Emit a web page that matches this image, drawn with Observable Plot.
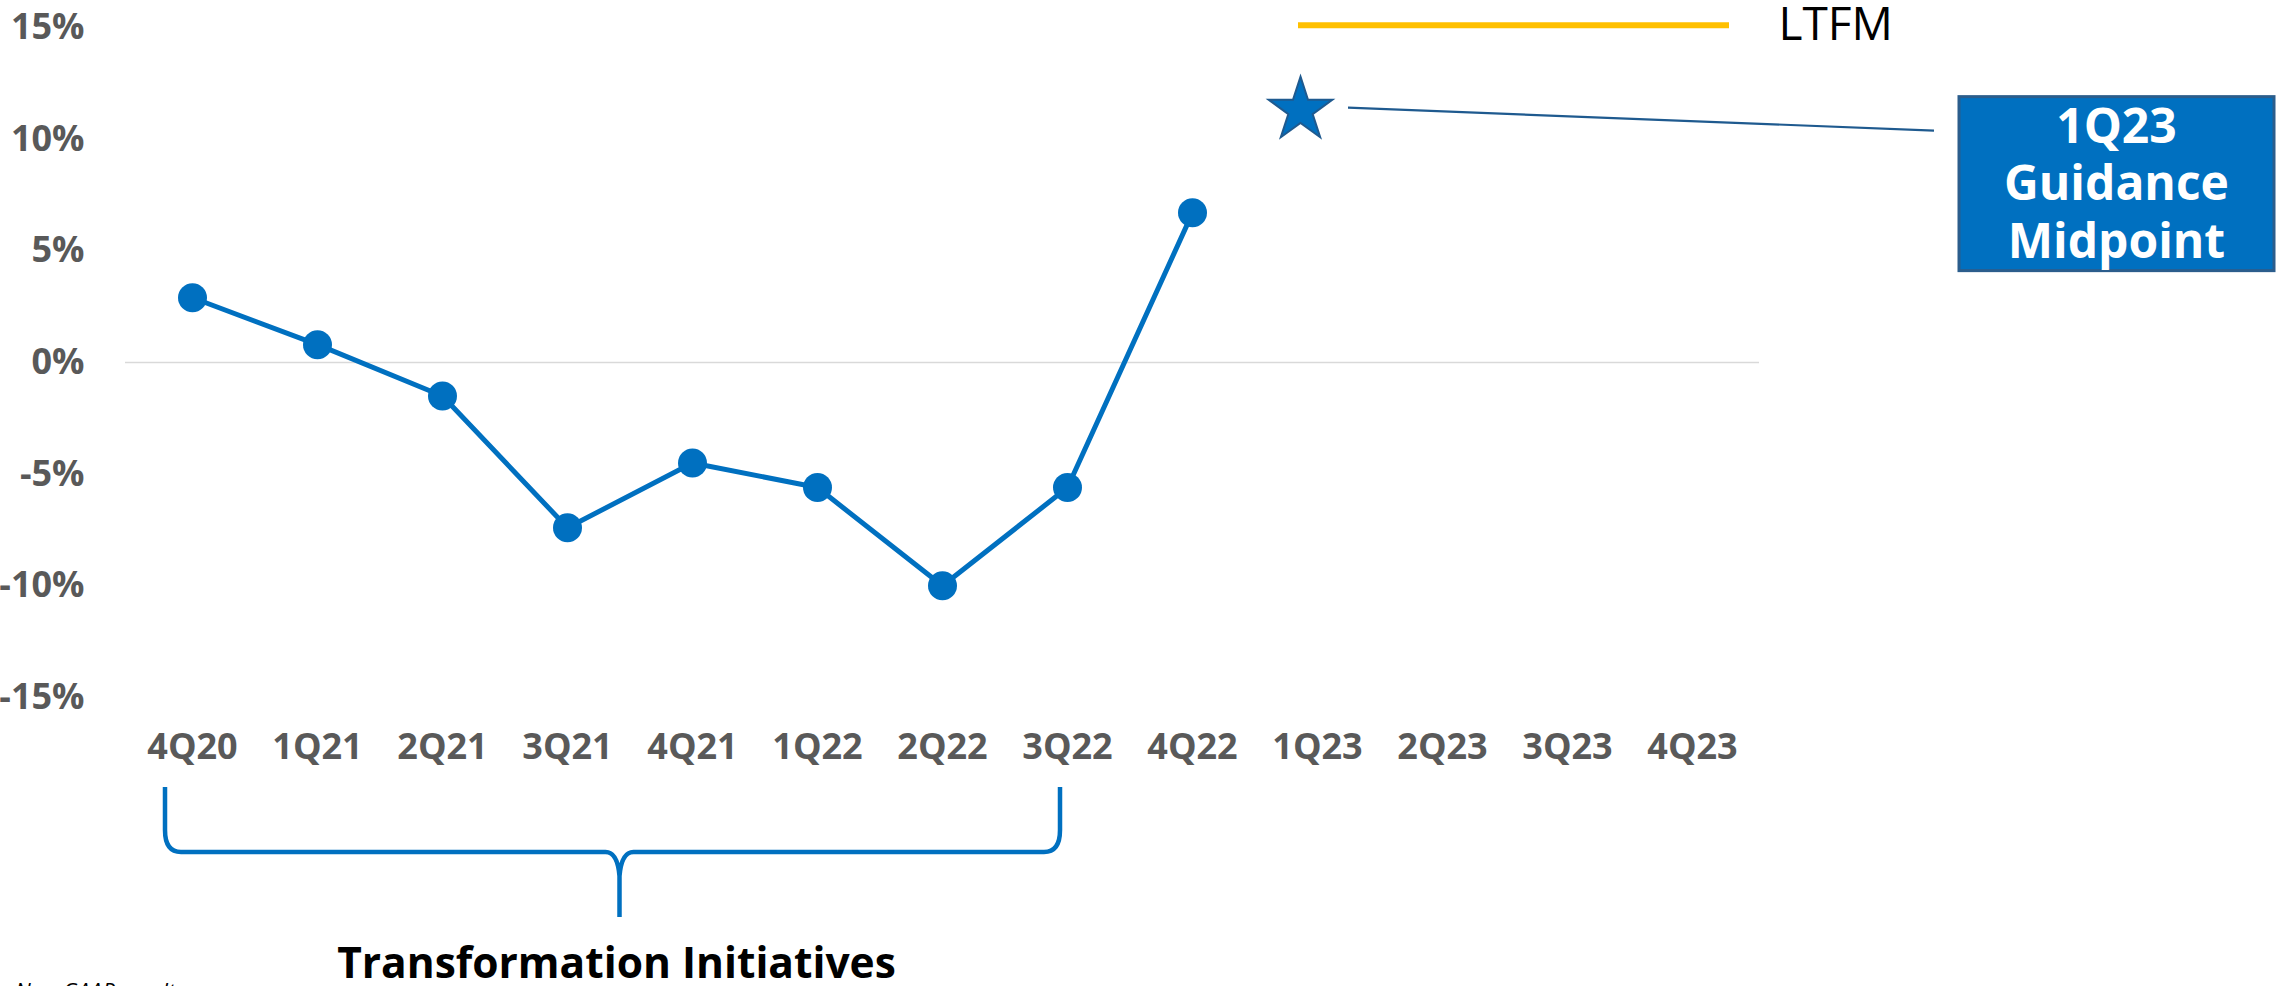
<!DOCTYPE html>
<html><head><meta charset="utf-8">
<script src="https://cdn.jsdelivr.net/npm/d3@7"></script>
<script src="https://cdn.jsdelivr.net/npm/@observablehq/plot@0.6"></script>
<style>html,body{margin:0;padding:0;background:#fff;overflow:hidden;}</style>
</head><body><div id="chart"></div>
<script>
// ---- data ----
const quarters = ["4Q20","1Q21","2Q21","3Q21","4Q21","1Q22","2Q22","3Q22","4Q22","1Q23","2Q23","3Q23","4Q23"];
const actualQuarters = ["4Q20","1Q21","2Q21","3Q21","4Q21","1Q22","2Q22","3Q22","4Q22"];
const actualValues = [2.9, 0.8, -1.5, -7.4, -4.5, -5.6, -10.0, -5.6, 6.7];
const guidanceQuarters = ["1Q23"];
const guidanceValues = [11.3];
const ltfmValues = [15.1];
const ltfmStart = ["1Q23"];
const ltfmEnd = ["4Q23"];
const yTicks = [-15, -10, -5, 0, 5, 10, 15];
const bracketStart = "4Q20";
const bracketEnd = "3Q22";
const bracketLabel = "Transformation Initiatives";
const guidanceLabel = ["1Q23", "Guidance", "Midpoint"];
const ltfmLabel = ["LTFM"];
const footnote = "Non-GAAP results";

// ---- tables ----
const actual = actualQuarters.map((q, i) => ({q, v: actualValues[i]}));
const guidance = guidanceQuarters.map((q, i) => ({q, v: guidanceValues[i]}));
const ltfm = ltfmValues.map((v, i) => ({v, x1: ltfmStart[i], x2: ltfmEnd[i], label: ltfmLabel[i]}));

const BLUE = "#0070C0";

const plot = Plot.plot({
  width: 2277, height: 986,
  marginLeft: 125, marginRight: 518, marginTop: 27, marginBottom: 289,
  style: {fontFamily: "'Open Sans', sans-serif", fontSize: "36px", fontWeight: 700, color: "#595959", background: "#fff", overflow: "visible"},
  x: {type: "point", domain: quarters, padding: 0.5, label: null},
  y: {domain: [-15, 15], label: null},
  marks: [
    Plot.ruleY([0], {stroke: "#D9D9D9", strokeWidth: 1.5}),
    Plot.axisY(yTicks, {tickSize: 0, tickPadding: 41, tickFormat: d => d + "%", fontSize: 36, label: null}),
    Plot.axisX({tickSize: 0, tickPadding: 36, fontSize: 36, label: null}),
    Plot.ruleY(ltfm, {y: "v", x1: "x1", x2: "x2", stroke: "#FFC000", strokeWidth: 6, insetLeft: -19, insetRight: -37}),
    Plot.text(ltfm, {x: "x2", y: "v", text: "label", dx: 86, dy: 0, textAnchor: "start", fontSize: 46, fontWeight: 400, fill: "#000"}),
    Plot.line(actual, {x: "q", y: "v", stroke: BLUE, strokeWidth: 5}),
    Plot.dot(actual, {x: "q", y: "v", r: 14.5, fill: BLUE}),
    Plot.dot(guidance, {x: "q", y: "v", symbol: "star", r: 20, fill: BLUE, stroke: "#1F5A8F", strokeWidth: 2, dx: -17})
  ]
});
document.getElementById("chart").appendChild(plot);

// ---- annotations anchored to the scales ----
const sx = plot.scale("x").apply, sy = plot.scale("y").apply;
const svg = d3.select(plot);
const ff = "'Open Sans', sans-serif";

// bracket under the transformation quarters
const bL = sx(bracketStart) - 27, bR = sx(bracketEnd) - 7;
const bM = (sx(bracketStart) + sx(bracketEnd)) / 2 - 10;
const bTop = sy(-15) + 90, hy = bTop + 65, tip = bTop + 130;
const bp = `M${bL},${bTop} L${bL},${hy-22} Q${bL},${hy} ${bL+16},${hy} L${bM-14},${hy} Q${bM-2},${hy} ${bM},${hy+24} L${bM},${tip}` +
           ` M${bM},${hy+24} Q${bM+2},${hy} ${bM+14},${hy} L${bR-16},${hy} Q${bR},${hy} ${bR},${hy-22} L${bR},${bTop}`;
svg.append("path").attr("d", bp).attr("fill", "none").attr("stroke", BLUE).attr("stroke-width", 4.5);
svg.append("text").attr("x", bM - 3).attr("y", tip + 61).attr("text-anchor", "middle")
  .attr("font-family", ff).attr("font-weight", 700).attr("font-size", 42.5).attr("fill", "#000").text(bracketLabel);

// footnote (cut at the bottom edge)
svg.append("text").attr("x", 100).attr("y", 999).attr("font-family", ff).attr("font-style", "italic")
  .attr("font-weight", 400).attr("font-size", 22).attr("fill", "#000").text(footnote);

// guidance callout
const gx = sx(guidance[0].q) - 17, gy = sy(guidance[0].v);
const bx = gx + 659, by = gy - 13, bw = 315, bh = 174;
svg.append("line").attr("x1", gx + 48).attr("y1", gy - 2).attr("x2", bx - 25).attr("y2", gy + 21)
  .attr("stroke", "#1F5A8F").attr("stroke-width", 2.2);
svg.append("rect").attr("x", bx).attr("y", by).attr("width", bw).attr("height", bh)
  .attr("fill", BLUE).attr("stroke", "#2B5D8C").attr("stroke-width", 3);
guidanceLabel.forEach((t, i) => {
  svg.append("text").attr("x", bx + bw / 2).attr("y", by + 46 + i * 57.5).attr("text-anchor", "middle")
    .attr("font-family", ff).attr("font-weight", 700).attr("font-size", 48).attr("fill", "#fff").text(t);
});
</script>
</body></html>
